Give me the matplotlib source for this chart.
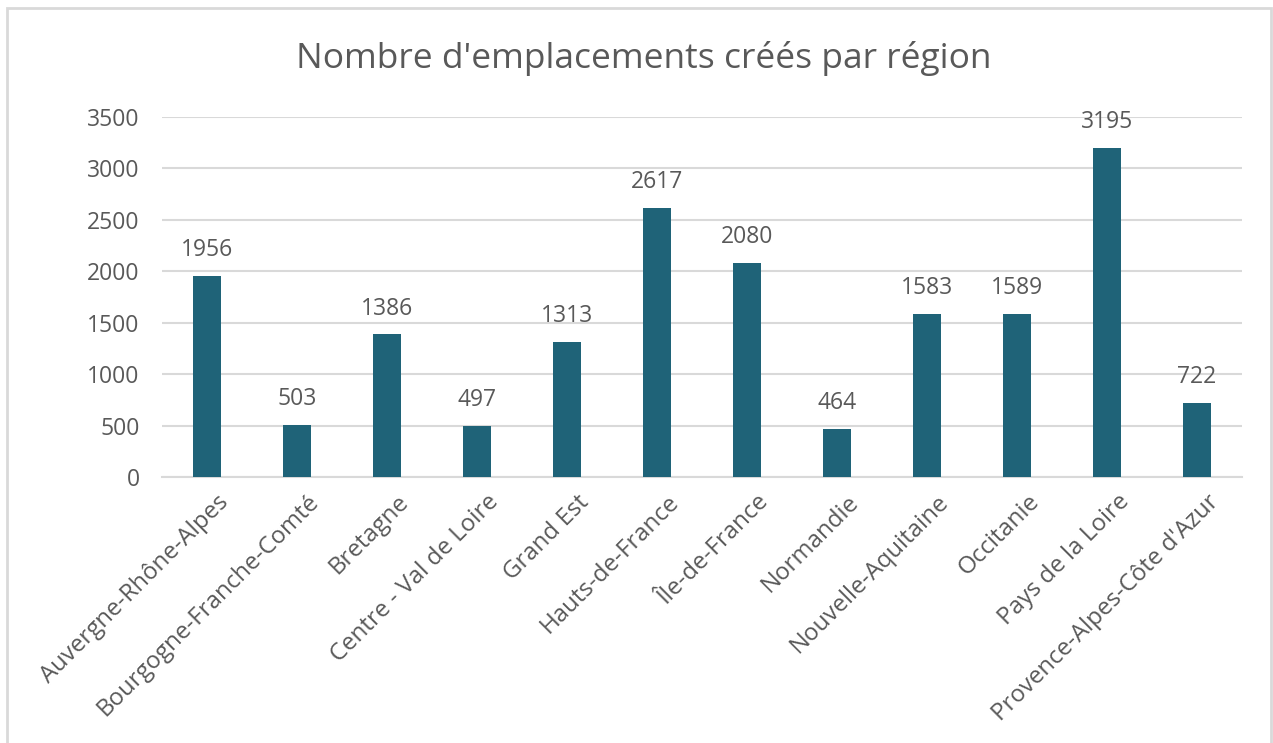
import matplotlib.pyplot as plt
import matplotlib.transforms as mtransforms
from matplotlib.patches import Rectangle

plt.rcParams['font.family'] = ['Open Sans', 'DejaVu Sans']

regions = ["Auvergne-Rhône-Alpes", "Bourgogne-Franche-Comté", "Bretagne",
           "Centre - Val de Loire", "Grand Est", "Hauts-de-France",
           "Île-de-France", "Normandie", "Nouvelle-Aquitaine", "Occitanie",
           "Pays de la Loire", "Provence-Alpes-Côte d'Azur"]
emplacements = [1956, 503, 1386, 497, 1313, 2617, 2080, 464, 1583, 1589, 3195, 722]
yticks = [0, 500, 1000, 1500, 2000, 2500, 3000, 3500]

bar_color = '#1f6378'
text_color = '#595959'

fig = plt.figure(figsize=(12.73, 7.43), dpi=100)
ax = fig.add_axes([162 / 1273, 1 - 477 / 743, 1080 / 1273, 360 / 743])

x = range(len(regions))
ax.bar(x, emplacements, width=0.31, color=bar_color, zorder=3)
for xi, v in zip(x, emplacements):
    ax.annotate(str(v), (xi, v), xytext=(0, 10), textcoords='offset points',
                ha='center', va='bottom', fontsize=16.5, color=text_color)

ax.set_xlim(-0.5, len(regions) - 0.5)
ax.set_ylim(0, 3500)
ax.set_yticks(yticks)
ax.set_yticklabels([str(t) for t in yticks], fontsize=16.5, color=text_color)
ax.set_xticks(list(x))
ax.set_xticklabels(regions, rotation=45, ha='right', rotation_mode='anchor',
                   fontsize=17.3, color=text_color)
ax.tick_params(axis='y', length=0, pad=16)
ax.tick_params(axis='x', length=0, pad=8)
# shift the rotated labels a little to the right, like the original
shift = mtransforms.ScaledTranslation(10 / 100, -2 / 100, fig.dpi_scale_trans)
for lbl in ax.get_xticklabels():
    lbl.set_transform(lbl.get_transform() + shift)
ax.grid(axis='y', color='#d9d9d9', linewidth=1.5, zorder=0)
for s in ['top', 'right', 'left']:
    ax.spines[s].set_visible(False)
ax.spines['bottom'].set_color('#d9d9d9')
ax.spines['bottom'].set_linewidth(1.5)

fig.text(0.506, 1 - 59 / 743, "Nombre d'emplacements créés par région",
         ha='center', va='center', fontsize=25.5, color=text_color)

fig.patches.append(Rectangle((7 / 1273, -0.05), 1264 / 1273, 1.05 - 8 / 743,
                             transform=fig.transFigure, fill=False,
                             edgecolor='#d9d9d9', linewidth=2))

fig.savefig('out.png', dpi=100)
